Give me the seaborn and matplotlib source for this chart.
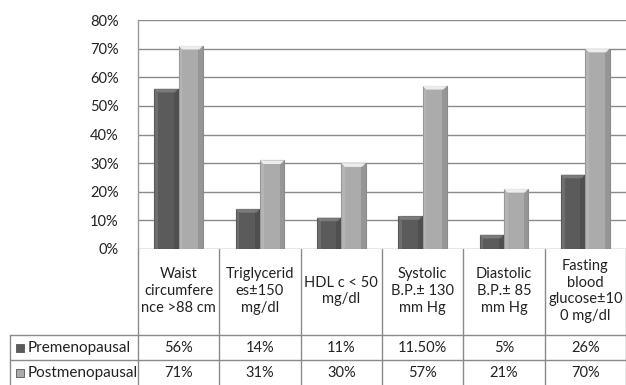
import matplotlib
matplotlib.use("Agg")
import matplotlib.pyplot as plt
import matplotlib.transforms as mtransforms
from matplotlib.patches import Rectangle, Polygon
import seaborn as sns
import pandas as pd

categories = ["Waist\ncircumfere\nnce >88 cm", "Triglycerid\nes\u00b1150\nmg/dl", "HDL c < 50\nmg/dl",
              "Systolic\nB.P.\u00b1 130\nmm Hg", "Diastolic\nB.P.\u00b1 85\nmm Hg", "Fasting\nblood\nglucose\u00b110\n0 mg/dl"]
series = ["Premenopausal", "Postmenopausal"]
pre_values = [56, 14, 11, 11.5, 5, 26]
post_values = [71, 31, 30, 57, 21, 70]
pre_labels = ["56%", "14%", "11%", "11.50%", "5%", "26%"]
post_labels = ["71%", "31%", "30%", "57%", "21%", "70%"]
yticks = [0, 10, 20, 30, 40, 50, 60, 70, 80]

colors = {"Premenopausal": "#5b5b5b", "Postmenopausal": "#ababab"}

df = pd.DataFrame({
    "cat": list(range(len(categories))) * 2,
    "series": [series[0]] * len(categories) + [series[1]] * len(categories),
    "value": pre_values + post_values,
})

sns.set_theme(style="white")
plt.rcParams["font.family"] = ["Lato", "DejaVu Sans"]

W, H = 626, 385
fig = plt.figure(figsize=(W / 100, H / 100), dpi=100)
ax = fig.add_axes([138 / W, 1 - 249 / H, (626 - 138) / W, (249 - 20) / H])

sns.barplot(data=df, x="cat", y="value", hue="series", palette=colors, width=0.6,
            ax=ax, legend=False, saturation=1, native_scale=True)

ax.set_xlim(-0.5, len(categories) - 0.5)
ax.set_ylim(0, 80)
ax.set_yticks(yticks)
ax.set_yticklabels([f"{v}%" for v in yticks], fontsize=10.5, color="#222222")
ax.set_xticks([])
ax.set_xlabel("")
ax.set_ylabel("")
ax.tick_params(axis="y", length=0, pad=14)
ax.grid(axis="y", color="#8a8a8a", linewidth=1)
ax.set_axisbelow(True)
for s in ["top", "right", "bottom"]:
    ax.spines[s].set_visible(False)
ax.spines["left"].set_color("#999999")
ax.spines["left"].set_linewidth(1)

# bevel look for bars
for p in list(ax.patches):
    fc = p.get_facecolor()
    x0, w, h = p.get_x(), p.get_width(), p.get_height()
    dark = fc[0] < 0.5
    p.set_edgecolor("#444444" if dark else "#8c8c8c")
    p.set_linewidth(0.8)
    ax.add_patch(Rectangle((x0 + w * 0.8, 0), w * 0.2, h,
                           facecolor="#000000", alpha=0.12, linewidth=0, zorder=p.get_zorder() + 0.1))
    ax.add_patch(Rectangle((x0, 0), w * 0.15, h,
                           facecolor="#ffffff", alpha=0.12, linewidth=0, zorder=p.get_zorder() + 0.1))
    cap = 1.3
    ax.add_patch(Polygon([(x0, h), (x0 + w, h), (x0 + w * 0.85, h - cap), (x0 + w * 0.15, h - cap)],
                         closed=True, facecolor="#ffffff" if not dark else "#8a8a8a",
                         alpha=0.8 if not dark else 0.7, linewidth=0, zorder=p.get_zorder() + 0.2))

# table below
trans = mtransforms.blended_transform_factory(ax.transData, fig.transFigure)
ftrans = fig.transFigure
def fy(y):
    return 1 - y / H

line_c = "#8a8a8a"
n = len(categories)
for i in range(n + 1):
    xb = i - 0.5
    ax.plot([xb, xb], [fy(249), fy(385)], transform=trans, color=line_c, lw=1, clip_on=False)
ax.plot([10 / W, 10 / W], [fy(335), fy(385)], transform=ftrans, color=line_c, lw=1, clip_on=False)
for yy in [335, 360]:
    ax.plot([10 / W, 1], [fy(yy), fy(yy)], transform=ftrans, color=line_c, lw=1, clip_on=False)

tc = "#222222"
fs = 10.5
for i, lab in enumerate(categories):
    ax.text(i, fy(291), lab, transform=trans, ha="center", va="center", fontsize=fs,
            color=tc, linespacing=1.25)
    ax.text(i, fy(348), pre_labels[i], transform=trans, ha="center", va="center", fontsize=fs, color=tc)
    ax.text(i, fy(373), post_labels[i], transform=trans, ha="center", va="center", fontsize=fs, color=tc)

for yy, s in zip([348, 373], series):
    fig.patches.append(Rectangle((16 / W, fy(yy + 4)), 8 / W, 8 / H, transform=ftrans,
                                 facecolor=colors[s], edgecolor="#555555", linewidth=0.6))
    fig.text(28 / W, fy(yy), s, ha="left", va="center", fontsize=11, color=tc)

fig.savefig("out.png", dpi=100)
